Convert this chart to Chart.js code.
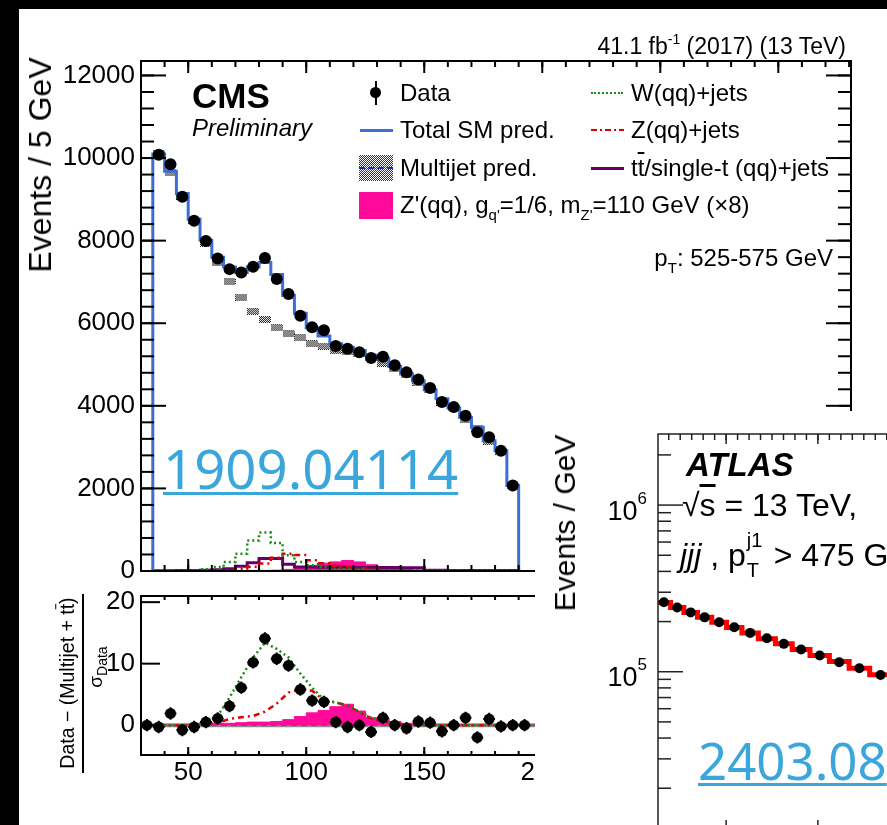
<!DOCTYPE html>
<html>
<head>
<meta charset="utf-8">
<title>Jet mass spectra</title>
<script src="https://cdn.jsdelivr.net/npm/chart.js@4.4.1/dist/chart.umd.min.js"></script>
<style>
  html, body { margin: 0; padding: 0; width: 887px; height: 825px; overflow: hidden; background: #000; }
  .sheet { position: absolute; left: 19px; top: 9px; width: 868px; height: 816px; background: #fff; }
  canvas { position: absolute; }
  .txt { position: absolute; font-family: "Liberation Sans", Arial, Helvetica, sans-serif; color: #000; white-space: nowrap; line-height: 1; z-index: 5; }
  .rot { transform: translate(-50%, -50%) rotate(-90deg); }
  .leg { font-size: 24px; }
  .sw { position: absolute; z-index: 5; }
  .link { position: absolute; font-family: "Noto Sans", sans-serif; color: #3aa6dc; line-height: 1; white-space: nowrap;
          text-decoration: underline; text-decoration-thickness: 3px; text-underline-offset: 3px; z-index: 6; }
  .small { font-size: 15px; position: relative; }
  #atlasBox { position: absolute; left: 535px; top: 411px; width: 352px; height: 414px; background: #fff; overflow: hidden; z-index: 4; }
  .ov { text-decoration: overline; }
</style>
</head>
<body>
<div class="sheet"></div>
<canvas id="cmsTop" width="887" height="600" style="left:0;top:0"></canvas>
<canvas id="cmsRatio" width="887" height="245" style="left:0;top:580px"></canvas>

<!-- CMS labels -->
<div class="txt" style="right:41px;top:35px;font-size:23px">41.1 fb<span class="small" style="top:-10px;font-size:14px">-1</span> (2017) (13 TeV)</div>
<div class="txt rot" style="left:40px;top:165px;font-size:32px">Events / 5 GeV</div>
<div class="txt" style="left:192px;top:78px;font-size:35px;font-weight:bold">CMS</div>
<div class="txt" style="left:192px;top:116px;font-size:24px;font-style:italic">Preliminary</div>

<div class="sw" style="left:370px;top:87px;width:11px;height:11px;border-radius:50%;background:#000"></div>
<div class="sw" style="left:374.5px;top:81px;width:2px;height:24px;background:#000"></div>
<div class="txt leg" style="left:400px;top:81px">Data</div>
<div class="sw" style="left:360px;top:128.5px;width:33px;height:3px;background:#3b6fd6"></div>
<div class="txt leg" style="left:400px;top:118px">Total SM pred.</div>
<div class="sw" style="left:359px;top:155px;width:34px;height:26px;background:repeating-conic-gradient(#333 0% 25%, #fff 0% 50%) 0 0 / 2px 2px"></div>
<div class="sw" style="left:359px;top:167px;width:34px;height:0;border-top:2px dashed #1c2fb8"></div>
<div class="txt leg" style="left:400px;top:156px">Multijet pred.</div>
<div class="sw" style="left:359px;top:192px;width:34px;height:27px;background:#ff0a9a"></div>
<div class="txt leg" style="left:400px;top:193px">Z'(qq), g<span class="small" style="top:7px">q'</span>=1/6, m<span class="small" style="top:7px">Z'</span>=110 GeV (×8)</div>

<div class="sw" style="left:591px;top:92px;width:32px;height:0;border-top:2px dotted #1a8a1a"></div>
<div class="txt leg" style="left:631px;top:81px">W(qq)+jets</div>
<div class="sw" style="left:591px;top:129px;width:33px;height:2px;background:repeating-linear-gradient(90deg,#dd0000 0 6px,transparent 6px 9px,#dd0000 9px 11px,transparent 11px 14px)"></div>
<div class="txt leg" style="left:631px;top:118px">Z(qq)+jets</div>
<div class="sw" style="left:591px;top:166.5px;width:33px;height:3px;background:#660066"></div>
<div class="txt leg" style="left:631px;top:156px">t<span class="ov">t</span>/single-t (qq)+jets</div>
<div class="txt leg" style="right:54px;top:246px">p<span class="small" style="top:7px">T</span>: 525-575 GeV</div>

<div class="txt rot" style="left:68px;top:683px;font-size:19.5px">Data − (Multijet + t<span class="ov">t</span>)</div>
<div class="sw" style="left:82px;top:594px;width:2px;height:179px;background:#000"></div>
<div class="txt rot" style="left:95px;top:667px;font-size:19px">σ<span class="small" style="top:5px;font-size:14px">Data</span></div>

<div class="link" style="left:163px;top:441px;font-size:54.5px">1909.04114</div>

<!-- ATLAS inset -->
<div id="atlasBox"><canvas id="atlasChart" width="505" height="430" style="left:0;top:0"></canvas></div>
<div class="txt rot" style="left:565px;top:523px;font-size:30px">Events / GeV</div>
<div class="txt" style="left:686px;top:448px;font-size:33px;font-weight:bold;font-style:italic">ATLAS</div>
<div class="txt" style="left:682px;top:489px;font-size:32px">√<span class="ov">s</span> = 13 TeV,</div>
<div class="txt" style="left:680px;top:534px;font-size:32px"><i>jjj</i> , p<span style="position:relative;display:inline-block;width:19px;height:32px;vertical-align:baseline"><span style="position:absolute;left:1px;top:-4px;font-size:20px">j1</span><span style="position:absolute;left:1px;top:26px;font-size:20px">T</span></span> &gt; 475 GeV</div>
<div class="link" style="left:698px;top:735px;font-size:51px">2403.08</div>

<script>
// ---- CMS: soft-drop mass, 5 GeV bins ----
const massBins = [37.5, 42.5, 47.5, 52.5, 57.5, 62.5, 67.5, 72.5, 77.5, 82.5, 87.5, 92.5, 97.5, 102.5, 107.5,
  112.5, 117.5, 122.5, 127.5, 132.5, 137.5, 142.5, 147.5, 152.5, 157.5, 162.5, 167.5, 172.5, 177.5, 182.5, 187.5];
const dataEvents = [10080, 9850, 9060, 8480, 7990, 7570, 7310, 7230, 7370, 7580, 7070, 6710, 6180, 5900, 5830,
  5450, 5380, 5300, 5160, 5190, 4980, 4810, 4640, 4430, 4090, 3970, 3760, 3360, 3240, 2910, 2070];
const totalSM = [10100, 9680, 9140, 8520, 8010, 7600, 7360, 7230, 7360, 7470, 7180, 6670, 6240, 5890, 5690,
  5500, 5420, 5340, 5225, 5150, 4950, 4770, 4600, 4390, 4170, 3950, 3720, 3480, 3155, 2910, 2070];
const multijet = [10100, 9650, 9080, 8490, 7930, 7460, 7010, 6630, 6290, 6090, 5890, 5745, 5650, 5500, 5445,
  5340, 5320, 5260, 5160, 5030, 4895, 4757, 4563, 4385, 4085, 3950, 3680, 3460, 3140, 2900, 2060];
const wJets = [0, 3, 6, 12, 40, 97, 218, 420, 740, 930, 680, 380, 220, 140, 90,
  60, 45, 35, 25, 20, 15, 12, 10, 8, 7, 6, 5, 5, 4, 4, 3];
const zJets = [0, 0, 2, 4, 6, 10, 20, 50, 100, 180, 320, 420, 390, 260, 190,
  130, 90, 60, 40, 25, 15, 10, 8, 6, 5, 4, 3, 3, 2, 2, 1];
const ttbar = [8, 8, 10, 15, 20, 32, 57, 113, 202, 300, 300, 162, 97, 95, 93,
  90, 88, 86, 84, 83, 82, 81, 81, 16, 16, 15, 15, 14, 14, 13, 12];
const zPrime = [5, 5, 5, 8, 10, 10, 12, 12, 15, 15, 20, 40, 70, 130, 190,
  220, 255, 220, 150, 90, 60, 40, 25, 15, 10, 8, 6, 5, 4, 3, 2];

// ---- CMS: pull panel ----
const ratioBins = [32.5, 37.5, 42.5, 47.5, 52.5, 57.5, 62.5, 67.5, 72.5, 77.5, 82.5, 87.5, 92.5, 97.5, 102.5, 107.5,
  112.5, 117.5, 122.5, 127.5, 132.5, 137.5, 142.5, 147.5, 152.5, 157.5, 162.5, 167.5, 172.5, 177.5, 182.5, 187.5, 192.5];
const ratioData = [0, -0.3, 1.9, -0.8, -0.3, 0.5, 1.1, 3.1, 6.1, 10.2, 14.1, 10.8, 9.7, 5.8, 4.0, 3.8,
  0.5, -0.3, 0, -1.1, 1.2, 0, -0.5, 0.6, 0.4, -1.0, 0, 1.2, -2.0, 1.0, -0.2, 0, 0];
const ratioVjets = [0, 0, 0, 0.1, 0.4, 1.5, 4.5, 7.8, 11.0, 13.4, 12.4, 11.0, 8.4, 6.1, 4.1,
  3.7, 3.2, 2.2, 1.2, 0.6, 0.3, 0.1, 0, 0, 0, 0, 0, 0, 0, 0, 0];
const ratioZjets = [0, 0, 0, 0, 0.2, 0.4, 1.0, 1.3, 1.5, 2.2, 3.5, 5.3, 5.8, 5.6, 4.0,
  3.7, 3.2, 2.1, 1.1, 0.6, 0.3, 0.1, 0, 0, 0, 0, 0, 0, 0, 0, 0];
const ratioZprime = [0, 0, 0.1, 0.1, 0.2, 0.3, 0.3, 0.4, 0.5, 0.5, 0.6, 0.9, 1.4, 2.0, 2.4,
  3.0, 3.4, 2.3, 1.2, 1.1, 0.6, 0.3, 0.2, 0.1, 0, 0, 0, 0, 0, 0, 0];

const yTicksTop = [0, 2000, 4000, 6000, 8000, 10000, 12000];
const yTicksRatio = [0, 10, 20];
const xTicksMass = [50, 100, 150, 200, 250, 300];

// ---- ATLAS inset: variable-width bins ----
const atlasEdges = [225, 239.5, 254, 268.8, 284.4, 300.5, 317.2, 335.1, 353.7, 372, 391.4, 412.5, 434, 456.4, 480];
const atlasData = [2.61e5, 2.43e5, 2.27e5, 2.12e5, 1.98e5, 1.85e5, 1.71e5, 1.59e5, 1.47e5, 1.36e5, 1.25e5, 1.14e5, 1.05e5, 9.55e4];
const atlasFit = [2.60e5, 2.43e5, 2.27e5, 2.12e5, 1.98e5, 1.84e5, 1.71e5, 1.58e5, 1.47e5, 1.36e5, 1.25e5, 1.15e5, 1.05e5, 9.6e4];
const atlasYTicks = [1e5, 1e6];
const atlasXTicks = [300, 400, 500, 600];

const BIN_W = 5;
const FONT = '"Liberation Sans", Arial, Helvetica, sans-serif';

// histogram outline: closed to zero at both ends
function steps(centers, values) {
  const pts = [{x: centers[0] - BIN_W / 2, y: 0}];
  centers.forEach((c, i) => {
    pts.push({x: c - BIN_W / 2, y: values[i]}, {x: c + BIN_W / 2, y: values[i]});
  });
  pts.push({x: centers[centers.length - 1] + BIN_W / 2, y: 0});
  return pts;
}

function edgeSteps(edges, values) {
  const pts = [];
  values.forEach((v, i) => pts.push({x: edges[i], y: v}, {x: edges[i + 1], y: v}));
  return pts;
}

function points(xs, ys) {
  return xs.map((x, i) => ({x, y: ys[i]}));
}

function seq(a, b, step) {
  const out = [];
  for (let v = a; v <= b + 1e-9; v += step) out.push(+v.toFixed(6));
  return out;
}

// small checkered box used for the multijet prediction
function checker(w, h) {
  const c = document.createElement('canvas');
  c.width = w; c.height = h;
  const g = c.getContext('2d');
  g.fillStyle = '#fff';
  g.fillRect(0, 0, w, h);
  g.fillStyle = '#111';
  for (let y = 0; y < h; y++) {
    for (let x = 0; x < w; x++) {
      if ((x + y) % 2 === 0) g.fillRect(x, y, 1, 1);
    }
  }
  return c;
}

// fixed axis sizes, no automatic label padding
function fixWidth(w) {
  return s => { s.width = w; s.paddingTop = 0; s.paddingBottom = 0; };
}
function fixHeight(h) {
  return s => { s.height = h; s.paddingLeft = 0; s.paddingRight = 0; };
}

// ROOT-like frame with inward ticks, plus reference lines under the data
const rootFrame = {
  id: 'rootFrame',
  beforeDatasetsDraw(chart, args, opts) {
    const {ctx, chartArea: a} = chart;
    const y = chart.scales.y;
    (opts.refLines || []).forEach(r => {
      const py = y.getPixelForValue(r.value);
      ctx.save();
      ctx.strokeStyle = r.color;
      ctx.lineWidth = r.width;
      ctx.setLineDash(r.dash || []);
      ctx.beginPath();
      ctx.moveTo(a.left, py);
      ctx.lineTo(a.right, py);
      ctx.stroke();
      ctx.restore();
    });
  },
  afterDatasetsDraw(chart, args, opts) {
    const {ctx, chartArea: a, scales} = chart;
    ctx.save();
    ctx.strokeStyle = opts.color || '#000';
    ctx.lineWidth = opts.tickWidth || 2;
    (opts.ticks || []).forEach(t => {
      const s = scales[t.axis];
      t.values.forEach(v => {
        if (v < s.min || v > s.max) return;
        const p = s.getPixelForValue(v);
        ctx.beginPath();
        if (t.side === 'left') { ctx.moveTo(a.left, p); ctx.lineTo(a.left + t.len, p); }
        if (t.side === 'right') { ctx.moveTo(a.right, p); ctx.lineTo(a.right - t.len, p); }
        if (t.side === 'top') { ctx.moveTo(p, a.top); ctx.lineTo(p, a.top + t.len); }
        if (t.side === 'bottom') { ctx.moveTo(p, a.bottom); ctx.lineTo(p, a.bottom - t.len); }
        ctx.stroke();
      });
    });
    ctx.lineWidth = opts.frameWidth || 2;
    ctx.strokeRect(a.left, a.top, a.right - a.left, a.bottom - a.top);

    // 10^n labels for a log axis
    const pl = opts.powerLabels;
    if (pl) {
      const s = scales.y;
      ctx.fillStyle = '#000';
      ctx.textBaseline = 'middle';
      pl.values.forEach(v => {
        const p = s.getPixelForValue(v);
        const exp = String(Math.round(Math.log10(v)));
        ctx.font = pl.supSize + 'px ' + FONT;
        const w = ctx.measureText(exp).width;
        const right = a.left - pl.gap;
        ctx.textAlign = 'right';
        ctx.fillText(exp, right, p + pl.supDy);
        ctx.font = pl.size + 'px ' + FONT;
        ctx.fillText('10', right - w, p + pl.dy);
      });
    }
    ctx.restore();
  }
};

const errorBars = {
  id: 'errorBars',
  afterDatasetsDraw(chart) {
    const {ctx, scales: {x, y}} = chart;
    chart.data.datasets.forEach(ds => {
      if (!ds.errY) return;
      ctx.save();
      ctx.strokeStyle = '#000';
      ctx.lineWidth = 2;
      ds.data.forEach(p => {
        const px = x.getPixelForValue(p.x), py = y.getPixelForValue(p.y);
        ctx.beginPath();
        ctx.moveTo(px, y.getPixelForValue(p.y - ds.errY));
        ctx.lineTo(px, y.getPixelForValue(p.y + ds.errY));
        ctx.moveTo(x.getPixelForValue(p.x - ds.errX), py);
        ctx.lineTo(x.getPixelForValue(p.x + ds.errX), py);
        ctx.stroke();
      });
      ctx.restore();
    });
  }
};

Chart.register(rootFrame, errorBars);

const common = {
  responsive: false,
  animation: false,
  events: [],
  plugins: {legend: {display: false}, tooltip: {enabled: false}}
};
const hidden = {display: false, drawTicks: false};
const plain = v => String(v);

// ---- CMS main panel ----
new Chart(document.getElementById('cmsTop'), {
  type: 'line',
  data: {
    datasets: [
      {data: points(massBins, dataEvents), showLine: false, pointRadius: 6, pointBackgroundColor: '#000', pointBorderWidth: 0},
      {data: steps(massBins, totalSM), borderColor: '#3b6fd6', borderWidth: 3, pointRadius: 0},
      {data: steps(massBins, wJets), borderColor: '#1a8a1a', borderWidth: 2.5, borderDash: [2, 3], pointRadius: 0},
      {data: steps(massBins, zJets), borderColor: '#dd0000', borderWidth: 2.5, borderDash: [6, 4, 2, 4], pointRadius: 0},
      {data: steps(massBins, ttbar), borderColor: '#660066', borderWidth: 3, pointRadius: 0},
      {data: steps(massBins, zPrime), borderColor: '#ff0a9a', backgroundColor: '#ff0a9a', borderWidth: 1, fill: 'origin', pointRadius: 0},
      {data: points(massBins, multijet), showLine: false, pointStyle: checker(12, 7), pointRadius: 3}
    ]
  },
  options: {
    ...common,
    layout: {padding: {top: 61, right: 36, left: 0, bottom: 0}},
    plugins: {
      ...common.plugins,
      rootFrame: {
        tickWidth: 2, frameWidth: 2,
        ticks: [
          {axis: 'y', side: 'left', values: yTicksTop, len: 25},
          {axis: 'y', side: 'left', values: seq(0, 12000, 400), len: 13},
          {axis: 'y', side: 'right', values: yTicksTop, len: 25},
          {axis: 'y', side: 'right', values: seq(0, 12000, 400), len: 13},
          {axis: 'x', side: 'bottom', values: xTicksMass, len: 12},
          {axis: 'x', side: 'bottom', values: seq(40, 330, 10), len: 6},
          {axis: 'x', side: 'top', values: xTicksMass, len: 12},
          {axis: 'x', side: 'top', values: seq(40, 330, 10), len: 6}
        ]
      }
    },
    scales: {
      x: {
        type: 'linear', min: 30, max: 330.8,
        grid: hidden, border: {display: false}, ticks: {display: false},
        afterFit: fixHeight(29)
      },
      y: {
        type: 'linear', min: 0, max: 12350,
        grid: hidden, border: {display: false},
        ticks: {color: '#000', font: {family: FONT, size: 26}, padding: 6, callback: plain},
        afterBuildTicks: s => { s.ticks = yTicksTop.map(v => ({value: v})); },
        afterFit: fixWidth(141)
      }
    }
  }
});

// ---- CMS pull panel ----
new Chart(document.getElementById('cmsRatio'), {
  type: 'line',
  data: {
    datasets: [
      {data: points(ratioBins, ratioData), showLine: false, pointRadius: 5.5, pointBackgroundColor: '#000', pointBorderWidth: 0, errY: 1, errX: 2.5},
      {data: points(massBins, ratioVjets), borderColor: '#1a8a1a', borderWidth: 2.5, borderDash: [2, 3], pointRadius: 0},
      {data: points(massBins, ratioZjets), borderColor: '#dd0000', borderWidth: 2.5, borderDash: [6, 4, 2, 4], pointRadius: 0},
      {data: steps(massBins, ratioZprime), borderColor: '#ff0a9a', backgroundColor: '#ff0a9a', borderWidth: 1, fill: 'origin', pointRadius: 0}
    ]
  },
  options: {
    ...common,
    layout: {padding: {top: 16, right: 36, left: 0, bottom: 0}},
    plugins: {
      ...common.plugins,
      rootFrame: {
        tickWidth: 2, frameWidth: 2,
        refLines: [
          {value: 0, color: '#8c8c8c', width: 4},
          {value: 0, color: '#d02080', width: 1.5, dash: [6, 4]}
        ],
        ticks: [
          {axis: 'y', side: 'left', values: yTicksRatio, len: 19},
          {axis: 'y', side: 'right', values: yTicksRatio, len: 19},
          {axis: 'x', side: 'top', values: xTicksMass, len: 8},
          {axis: 'x', side: 'top', values: seq(40, 330, 10), len: 4},
          {axis: 'x', side: 'bottom', values: xTicksMass, len: 8},
          {axis: 'x', side: 'bottom', values: seq(40, 330, 10), len: 4}
        ]
      }
    },
    scales: {
      x: {
        type: 'linear', min: 30, max: 330.8,
        grid: hidden, border: {display: false},
        ticks: {color: '#000', font: {family: FONT, size: 26}, padding: 2, maxRotation: 0, callback: plain},
        afterBuildTicks: s => { s.ticks = xTicksMass.map(v => ({value: v})); },
        afterFit: fixHeight(70)
      },
      y: {
        type: 'linear', min: -4.85, max: 21,
        grid: hidden, border: {display: false},
        ticks: {color: '#000', font: {family: FONT, size: 26}, padding: 6, callback: plain},
        afterBuildTicks: s => { s.ticks = yTicksRatio.map(v => ({value: v})); },
        afterFit: fixWidth(141)
      }
    }
  }
});

// ---- ATLAS inset ----
const atlasCenters = atlasEdges.slice(0, -1).map((e, i) => (e + atlasEdges[i + 1]) / 2);
const logMinor = [];
[4, 5, 6].forEach(e => seq(2, 9, 1).forEach(m => logMinor.push(m * Math.pow(10, e))));

new Chart(document.getElementById('atlasChart'), {
  type: 'line',
  data: {
    datasets: [
      {data: points(atlasCenters, atlasData), showLine: false, pointRadius: 5, pointBackgroundColor: '#000', pointBorderWidth: 0},
      {data: edgeSteps(atlasEdges, atlasFit), borderColor: '#ff0000', borderWidth: 5, pointRadius: 0}
    ]
  },
  options: {
    ...common,
    layout: {padding: {top: 23, right: 0, left: 0, bottom: 0}},
    plugins: {
      ...common.plugins,
      rootFrame: {
        color: '#222', tickWidth: 1.5, frameWidth: 1.5,
        powerLabels: {values: atlasYTicks, size: 27, supSize: 17, gap: 11, dy: 7, supDy: -6},
        ticks: [
          {axis: 'y', side: 'left', values: atlasYTicks, len: 25},
          {axis: 'y', side: 'left', values: logMinor, len: 13},
          {axis: 'x', side: 'top', values: atlasXTicks, len: 10},
          {axis: 'x', side: 'top', values: seq(237.5, 630, 12.5), len: 6},
          {axis: 'x', side: 'bottom', values: atlasXTicks, len: 15},
          {axis: 'x', side: 'bottom', values: seq(237.5, 630, 12.5), len: 8}
        ]
      }
    },
    scales: {
      x: {
        type: 'linear', min: 225.8, max: 636.5,
        grid: hidden, border: {display: false}, ticks: {display: false},
        afterFit: fixHeight(6)
      },
      y: {
        type: 'logarithmic', min: 1.048e4, max: 2.67e6,
        grid: hidden, border: {display: false}, ticks: {display: false},
        afterBuildTicks: s => { s.ticks = atlasYTicks.map(v => ({value: v})); },
        afterFit: fixWidth(123)
      }
    }
  }
});
</script>
</body>
</html>
